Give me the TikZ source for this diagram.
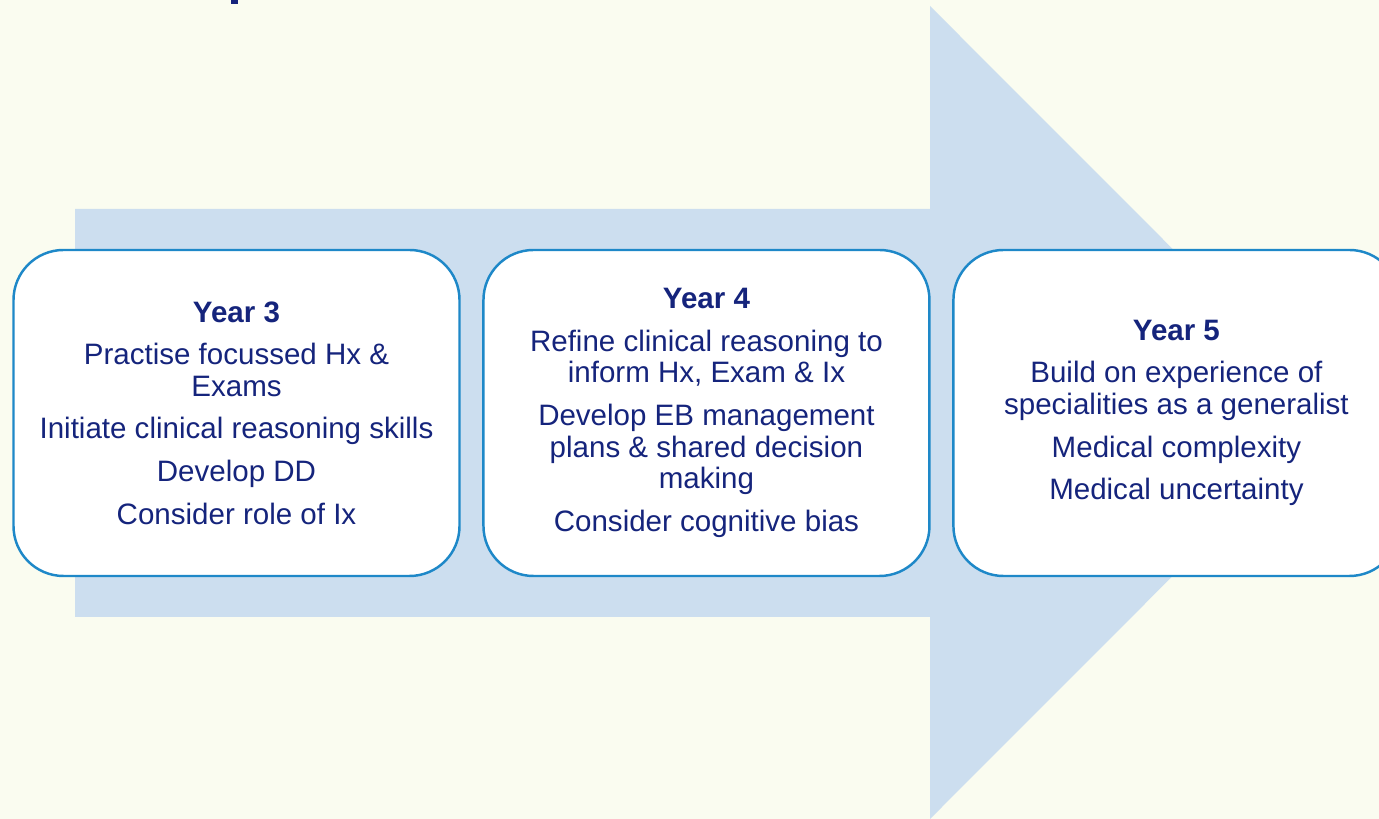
\documentclass[tikz,border=0pt]{standalone}
\usepackage{fontspec}
\setmainfont{Liberation Sans}
\usepackage{xcolor}
\definecolor{pagecream}{HTML}{FAFCF0}
\definecolor{arrowblue}{HTML}{CCDEEF}
\definecolor{edgeblue}{HTML}{1E88C8}
\definecolor{textnavy}{HTML}{15247C}
\usetikzlibrary{positioning}
\tikzset{
  yearbox/.style={rectangle, rounded corners=1cm, draw=edgeblue, line width=1.4pt, fill=white,
                  text=textnavy, align=center, minimum width=8.92cm, minimum height=6.52cm,
                  font=\fontsize{16.8}{18}\selectfont},
}

\begin{document}
\begin{tikzpicture}[node distance=0.43cm]
  \fill[pagecream] (0,0) rectangle (27.58,16.38);
  \useasboundingbox (0,0) rectangle (27.58,16.38);
  % big arrow behind the boxes
  \fill[arrowblue] (1.5,4.04) -- (18.6,4.04) -- (18.6,0) -- (26.72,8.13) -- (18.6,16.26)
                   -- (18.6,12.2) -- (1.5,12.2) -- cycle;
  % cut-off title stub
  \fill[textnavy] (4.62,16.38) rectangle (4.76,16.29);
  \node[yearbox] (y3) at (4.73,8.12) {\textbf{Year 3}\\[0.22cm]
    Practise focussed Hx \&\\ Exams\\[0.22cm]
    Initiate clinical reasoning skills\\[0.22cm]
    Develop DD\\[0.22cm]
    Consider role of Ix};
  \node[yearbox, right=of y3] (y4) {\textbf{Year 4}\\[0.22cm]
    Refine clinical reasoning to\\ inform Hx, Exam \& Ix\\[0.22cm]
    Develop EB management\\ plans \& shared decision\\ making\\[0.22cm]
    Consider cognitive bias};
  \node[yearbox, right=of y4] (y5) {\textbf{Year 5}\\[0.22cm]
    Build on experience of\\ specialities as a generalist\\[0.22cm]
    Medical complexity\\[0.22cm]
    Medical uncertainty};
\end{tikzpicture}
\end{document}
